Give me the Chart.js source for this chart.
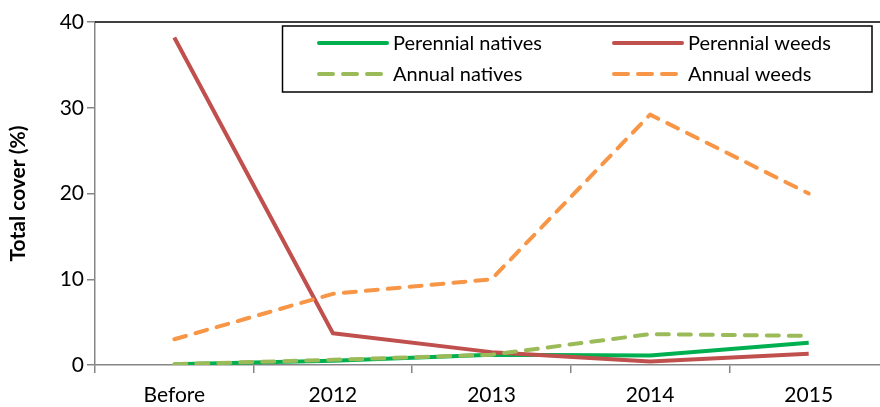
<!DOCTYPE html>
<html>
<head>
<meta charset="utf-8">
<script src="https://cdn.jsdelivr.net/npm/chart.js@4/dist/chart.umd.min.js"></script>
<style>
  html, body { margin: 0; padding: 0; background: #fff; overflow: hidden; }
  #wrap { width: 888px; height: 407px; }
</style>
</head>
<body>
<div id="wrap"><canvas id="chart" width="888" height="407"></canvas></div>
<script>
// Данні з графіка (оцінені на око)
const categories = ['Before', '2012', '2013', '2014', '2015'];
const perennialNatives = [0.1, 0.5, 1.2, 1.1, 2.6];
const perennialWeeds = [38.2, 3.7, 1.5, 0.4, 1.3];
const annualNatives = [0.1, 0.6, 1.2, 3.6, 3.4];
const annualWeeds = [3.0, 8.3, 10.0, 29.2, 20.0];
const yTicks = [0, 10, 20, 30, 40];

const FONT = 'Lato, "Open Sans", sans-serif';
const AXIS_GREY = '#868686';

const makeSet = (label, data, color, dashed) => ({
  label: label,
  data: data,
  borderColor: color,
  backgroundColor: color,
  borderWidth: 4,
  borderDash: dashed ? [12, 10] : [],
  borderCapStyle: dashed ? 'round' : 'butt',
  borderJoinStyle: 'round',
  pointRadius: 0,
  tension: 0,
  fill: false
});

// перший датасет малюється зверху
const datasets = [
  makeSet('Annual weeds', annualWeeds, '#F79646', true),
  makeSet('Annual natives', annualNatives, '#9BBB59', true),
  makeSet('Perennial weeds', perennialWeeds, '#C0504D', false),
  makeSet('Perennial natives', perennialNatives, '#00B050', false)
];

// Легенда в рамці, два стовпці
const legendRows = [
  ['Perennial natives', 'Perennial weeds'],
  ['Annual natives', 'Annual weeds']
];

const boxLegend = {
  id: 'boxLegend',
  afterDraw(chart) {
    const ctx = chart.ctx;
    const area = chart.chartArea;
    ctx.save();

    // верхня рамка області графіка
    ctx.strokeStyle = '#000';
    ctx.lineWidth = 1.5;
    ctx.beginPath();
    ctx.moveTo(area.left, area.top);
    ctx.lineTo(area.right, area.top);
    ctx.stroke();

    // рамка легенди
    ctx.lineWidth = 1.5;
    ctx.strokeRect(282.5, 26, 589.5, 66);

    const colX = [317, 612];
    const rowY = [43, 74];
    ctx.font = '20px ' + FONT;
    ctx.textBaseline = 'middle';
    ctx.textAlign = 'left';

    legendRows.forEach((row, r) => {
      row.forEach((name, c) => {
        const ds = chart.data.datasets.find(d => d.label === name);
        const x = colX[c];
        const y = rowY[r];
        ctx.strokeStyle = ds.borderColor;
        ctx.lineWidth = 4;
        ctx.lineCap = 'round';
        ctx.setLineDash(ds.borderDash.length ? [14, 10] : []);
        ctx.beginPath();
        ctx.moveTo(x + 2, y);
        ctx.lineTo(x + 70, y);
        ctx.stroke();
        ctx.setLineDash([]);
        ctx.fillStyle = '#000';
        ctx.fillText(name, x + 76, y + 1);
      });
    });
    ctx.restore();
  }
};

new Chart(document.getElementById('chart'), {
  type: 'line',
  data: { labels: categories, datasets: datasets },
  plugins: [boxLegend],
  options: {
    responsive: false,
    devicePixelRatio: 1,
    animation: false,
    layout: { padding: { top: 22, right: 0, left: 0, bottom: 0 } },
    plugins: {
      legend: { display: false },
      tooltip: { enabled: false }
    },
    scales: {
      x: {
        offset: true,
        grid: {
          offset: true,
          drawOnChartArea: false,
          tickLength: 8,
          color: AXIS_GREY,
          lineWidth: 1.5
        },
        border: { color: AXIS_GREY, width: 1.5 },
        ticks: {
          color: '#000',
          font: { family: FONT, size: 21 },
          padding: 10,
          maxRotation: 0
        },
        afterFit(scale) { scale.height = 42; }
      },
      y: {
        min: 0,
        max: 40,
        afterBuildTicks(scale) {
          scale.ticks = yTicks.map(v => ({ value: v }));
        },
        grid: {
          drawOnChartArea: false,
          tickLength: 8,
          color: AXIS_GREY,
          lineWidth: 1.5
        },
        border: { color: AXIS_GREY, width: 1.5 },
        ticks: {
          color: '#000',
          font: { family: FONT, size: 21 },
          padding: 3
        },
        title: {
          display: true,
          text: 'Total cover (%)',
          color: '#000',
          font: { family: FONT, size: 21, weight: 'bold' },
          padding: { top: 6, bottom: 0 }
        },
        afterFit(scale) { scale.width = 95; }
      }
    }
  }
});
</script>
</body>
</html>
